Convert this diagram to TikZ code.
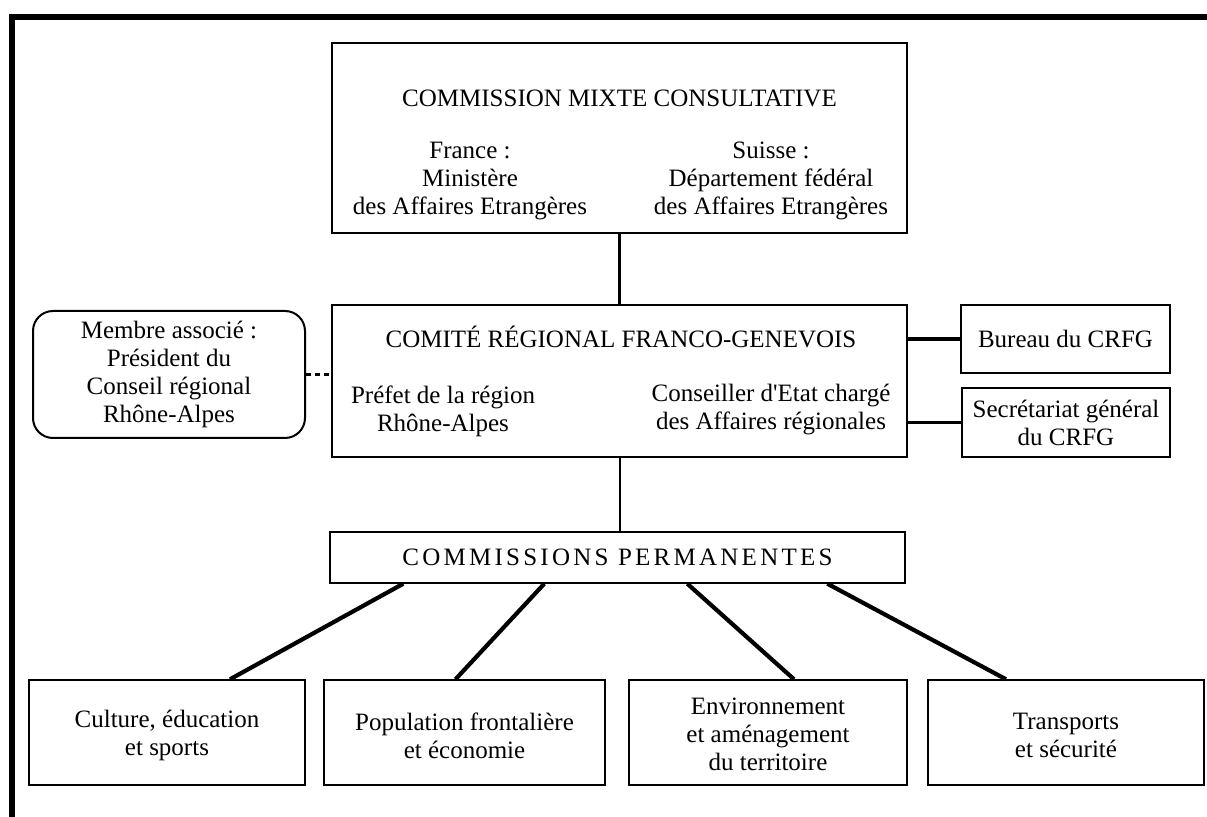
\documentclass[tikz,border=0pt]{standalone}
\usepackage{fontspec}
\setmainfont{Liberation Serif}
\newcommand\fs{\fontsize{12.5pt}{14pt}\selectfont}
\begin{document}
\begin{tikzpicture}[x=0.5pt,y=-0.5pt,
  box/.style={draw,line width=0.7pt,inner sep=0pt},
  txt/.style={inner sep=0pt,align=center,font=\fs},
  thin link/.style={line width=1pt},
  thick link/.style={line width=1.6pt},
  diag/.style={line width=2.1pt},
  frame/.style={line width=2.6pt}]
\useasboundingbox (0,0) rectangle (1207,817);
\draw[frame] (12,817) -- (12,17) -- (1207,17);

% boxes
\node[box,minimum width=287.5pt,minimum height=95pt] (cmc) at (619.5,138) {};
\node[box,minimum width=287.5pt,minimum height=76pt] (crfg) at (619.5,381) {};
\node[box,line width=1pt,rounded corners=10pt,minimum width=136pt,minimum height=63.5pt] (ass) at (169,374.5) {};
\node[box,minimum width=104.5pt,minimum height=34pt] (bur) at (1065.5,339) {};
\node[box,minimum width=104pt,minimum height=34.5pt] (sec) at (1066,422.5) {};
\node[box,minimum width=287.5pt,minimum height=25.5pt] (cp) at (617.5,557.5) {};
\node[box,minimum width=138pt,minimum height=52.5pt] (b1) at (167,732.5) {};
\node[box,minimum width=140.5pt,minimum height=52.5pt] (b2) at (464.5,732.5) {};
\node[box,minimum width=139pt,minimum height=52.5pt] (b3) at (768,732.5) {};
\node[box,minimum width=138pt,minimum height=52.5pt] (b4) at (1066,732.5) {};

% texts
\node[txt] (t1) at (619.5,98) {COMMISSION MIXTE CONSULTATIVE};
\node[txt] (t2) at (470,181) {France :\\Ministère\\des Affaires Etrangères};
\node[txt] (t3) at (771,181) {Suisse :\\Département fédéral\\des Affaires Etrangères};
\node[txt] (t4) at (621,337) {COMITÉ RÉGIONAL FRANCO-GENEVOIS};
\node[txt] (t5) at (443,411) {Préfet de la région\\Rhône-Alpes};
\node[txt] (t6) at (771,410) {Conseiller d\textquotesingle Etat chargé\\des Affaires régionales};
\node[txt] (t7) at (ass.center) {Membre associé :\\Président du\\Conseil régional\\Rhône-Alpes};
\node[txt] (t8) at (bur.center) {Bureau du CRFG};
\node[txt] (t9) at (sec.center) {Secrétariat général\\du CRFG};
\node[txt,font=\fs\addfontfeature{LetterSpace=13}] (t10) at (cp.center) {COMMISSIONS PERMANENTES};
\node[txt,yshift=-1.5pt] (t11) at (b1.center) {Culture, éducation\\et sports};
\node[txt,yshift=-1.5pt] (t12) at (b2.center) {Population frontalière\\et économie};
\node[txt,yshift=-1pt] (t13) at (b3.center) {Environnement\\et aménagement\\du territoire};
\node[txt,yshift=-1.5pt] (t14) at (b4.center) {Transports\\et sécurité};

% connectors
\draw[thick link] (cmc.south) -- (crfg.north);
\draw[thin link] (crfg.south) -- (crfg.south |- cp.north);
\draw[thick link,dash pattern=on 2.5pt off 2pt] (ass.east) -- (ass.east -| crfg.west);
\draw[thick link] (bur.west) -- (bur.west -| crfg.east);
\draw[thick link] (sec.west) -- (sec.west -| crfg.east);
\draw[diag] ([xshift=37pt]cp.south west) -- ([xshift=31.5pt]b1.north);
\draw[diag] ([xshift=107.5pt]cp.south west) -- ([xshift=-4.5pt]b2.north);
\draw[diag] ([xshift=179pt]cp.south west) -- ([xshift=13pt]b3.north);
\draw[diag] ([xshift=249pt]cp.south west) -- ([xshift=-30pt]b4.north);
\end{tikzpicture}
\end{document}
